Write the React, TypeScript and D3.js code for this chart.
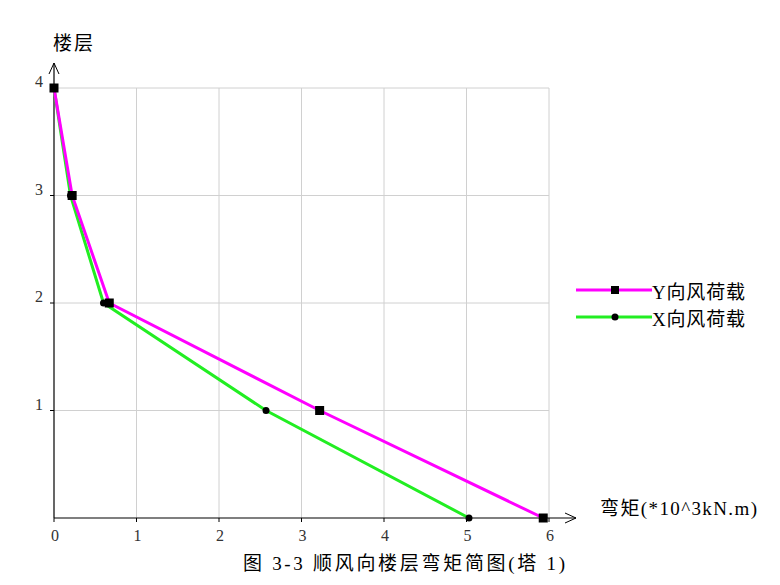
import React from "react";
import * as d3 from "d3";

const floors = [4, 3, 2, 1, 0];
const yWind = [0, 0.22, 0.67, 3.22, 5.93];
const xWind = [0, 0.2, 0.6, 2.57, 5.03];
const xTicks = [0, 1, 2, 3, 4, 5, 6];
const yTicks = [1, 2, 3, 4];
const seriesNames = ["Y向风荷载", "X向风荷载"];
const xAxisTitle = "弯矩(*10^3kN.m)";
const yAxisTitle = "楼层";
const caption = "图 3-3 顺风向楼层弯矩简图(塔 1)";

const W = 780, H = 585;
const x = d3.scaleLinear().domain([0, 6]).range([54, 549]);
const y = d3.scaleLinear().domain([0, 4]).range([518, 88]);

const MAG = "#ff00ff";
const GRN = "#22ee22";
const numFont = "'Liberation Serif', serif";
const cjkFont = "'Liberation Serif', 'Noto Sans CJK SC', serif";

export default function App() {
  const line = d3.line<number>().x((d) => x(d)).y((_, i) => y(floors[i]));
  return (
    <svg width={W} height={H} style={{ position: "absolute", left: 0, top: 0, background: "#fff" }}>
      {xTicks.filter((t) => t > 0).map((t) => (
        <line key={"gx" + t} x1={x(t)} x2={x(t)} y1={y(4)} y2={y(0)} stroke="#d0d0d0" strokeWidth={1} />
      ))}
      {yTicks.map((t) => (
        <line key={"gy" + t} x1={x(0)} x2={x(6)} y1={y(t)} y2={y(t)} stroke="#d0d0d0" strokeWidth={1} />
      ))}
      <line x1={x(0)} x2={x(0)} y1={y(0)} y2={63} stroke="#000" strokeWidth={1.2} />
      <polyline points={`${x(0) - 5},${74} ${x(0)},${63} ${x(0) + 5},${74}`} fill="none" stroke="#000" strokeWidth={1} />
      <line x1={x(0)} x2={576} y1={y(0)} y2={y(0)} stroke="#000" strokeWidth={1.2} />
      <polyline points={`${565},${y(0) - 5} ${576},${y(0)} ${565},${y(0) + 5}`} fill="none" stroke="#000" strokeWidth={1} />
      {xTicks.map((t) => (
        <g key={"tx" + t}>
          <line x1={x(t)} x2={x(t)} y1={y(0)} y2={y(0) + 4} stroke="#000" />
          <text x={x(t) + 1} y={y(0) + 23} textAnchor="middle" fontFamily={numFont} fontSize={16} fill="#333">{t}</text>
        </g>
      ))}
      {yTicks.map((t) => (
        <g key={"ty" + t}>
          <line x1={x(0) - 4} x2={x(0)} y1={y(t)} y2={y(t)} stroke="#000" />
          <text x={x(0) - 15} y={y(t) - 1} textAnchor="middle" fontFamily={numFont} fontSize={16} fill="#333">{t}</text>
        </g>
      ))}
      <path d={line(xWind) || ""} fill="none" stroke={GRN} strokeWidth={3} />
      <path d={line(yWind) || ""} fill="none" stroke={MAG} strokeWidth={3} />
      {xWind.map((v, i) => (
        <circle key={"cx" + i} cx={x(v)} cy={y(floors[i])} r={3.5} fill="#000" />
      ))}
      {yWind.map((v, i) => (
        <rect key={"ry" + i} x={x(v) - 4.5} y={y(floors[i]) - 4.5} width={9} height={9} fill="#000" />
      ))}
      <line x1={576} x2={652} y1={290} y2={290} stroke={MAG} strokeWidth={3} />
      <rect x={611} y={286} width={8} height={8} fill="#000" />
      <text x={652} y={299} fontFamily={cjkFont} fontSize={19} fill="#000" textLength={93} lengthAdjust="spacing">{seriesNames[0]}</text>
      <line x1={576} x2={652} y1={317} y2={317} stroke={GRN} strokeWidth={3} />
      <circle cx={615} cy={317} r={3.5} fill="#000" />
      <text x={652} y={326} fontFamily={cjkFont} fontSize={19} fill="#000" textLength={93} lengthAdjust="spacing">{seriesNames[1]}</text>
      <text x={53} y={50} fontFamily={cjkFont} fontSize={19} fill="#000" textLength={40} lengthAdjust="spacing">{yAxisTitle}</text>
      <text x={600} y={515} fontFamily={cjkFont} fontSize={19} fill="#000" textLength={157} lengthAdjust="spacing">{xAxisTitle}</text>
      <text x={243} y={570} fontFamily={cjkFont} fontSize={19} fill="#000" textLength={322} lengthAdjust="spacing">{caption}</text>
    </svg>
  );
}
